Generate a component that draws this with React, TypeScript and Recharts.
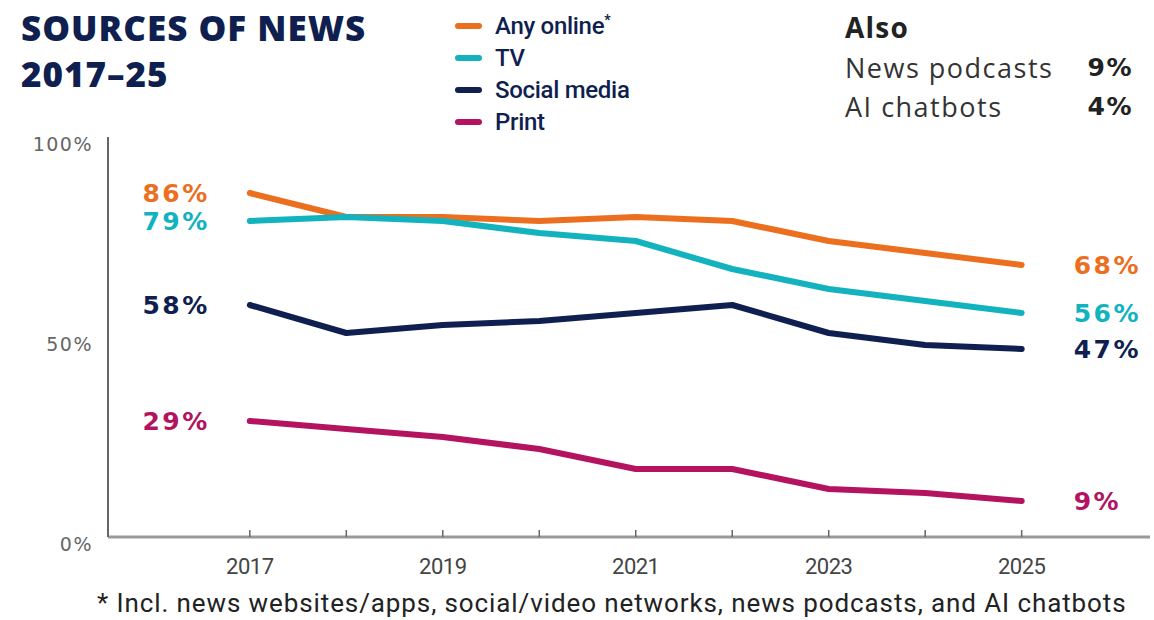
import React from 'react';
import { LineChart, Line, XAxis, YAxis, Legend, LabelList } from 'recharts';

const years = [2017, 2018, 2019, 2020, 2021, 2022, 2023, 2024, 2025];
const anyOnline = [86, 80, 80, 79, 80, 79, 74, 71, 68];
const tv = [79, 80, 79, 76, 74, 67, 62, 59, 56];
const socialMedia = [58, 51, 53, 54, 56, 58, 51, 48, 47];
const print = [29, 27, 25, 22, 17, 17, 12, 11, 9];
const yTicks = [0, 50, 100];
const alsoLabels = ['News podcasts', 'AI chatbots'];
const alsoValues = [9, 4];

const NAVY = '#0f1f4f';

const series = [
  { key: 'online', name: 'Any online', values: anyOnline, color: '#ec6f1f' },
  { key: 'tv', name: 'TV', values: tv, color: '#12b3bf' },
  { key: 'social', name: 'Social media', values: socialMedia, color: NAVY },
  { key: 'print', name: 'Print', values: print, color: '#b3135f' },
];

const data = years.map((year, i) => {
  const row: Record<string, number> = { year };
  series.forEach((s) => (row[s.key] = s.values[i]));
  return row;
});

const lastIndex = years.length - 1;

const XTick = (props: any) => {
  const { x, y, payload } = props;
  const v = payload.value;
  return (
    <g>
      <line x1={x} x2={x} y1={y} y2={y - 7} stroke="#666" strokeWidth={1.5} />
      {v % 2 === 1 && (
        <text x={x} y={y + 29} textAnchor="middle" dominantBaseline="central"
          fontFamily="Roboto" fontSize={22} letterSpacing={-0.5} fill="#444">
          {v}
        </text>
      )}
    </g>
  );
};

const YTick = (props: any) => {
  const { x, y, payload } = props;
  return (
    <text x={x - 15} y={y + 7} textAnchor="end" dominantBaseline="central"
      fontFamily="DejaVu Sans" fontSize={19} letterSpacing={1.5} fill="#666">
      {payload.value}%
    </text>
  );
};

const endLabel = (color: string) => (props: any) => {
  const { x, y, value, index } = props;
  if (index !== 0 && index !== lastIndex) return null;
  const first = index === 0;
  return (
    <text x={first ? x - 40 : x + 52} y={y} textAnchor={first ? 'end' : 'start'}
      dominantBaseline="central" fontFamily="DejaVu Sans" fontWeight="bold"
      fontSize={25} letterSpacing={2.5} fill={color}>
      {value}%
    </text>
  );
};

const LegendBox = () => (
  <div>
    {series.map((s) => (
      <div key={s.key} style={{ display: 'flex', alignItems: 'center', height: 32 }}>
        <span style={{ width: 27, height: 6, borderRadius: 3, background: s.color, marginRight: 13 }} />
        <span style={{ fontFamily: 'Roboto', fontWeight: 500, fontSize: 24, color: NAVY, letterSpacing: -0.3 }}>
          {s.name}
          {s.key === 'online' && <sup style={{ fontSize: 14, fontWeight: 700 }}>*</sup>}
        </span>
      </div>
    ))}
  </div>
);

export default function App() {
  return (
    <div style={{ position: 'relative', width: 1154, height: 620, background: '#fff', overflow: 'hidden' }}>
      <style>{'body{margin:0}'}</style>
      <div style={{ position: 'absolute', left: 21, top: 5, fontFamily: 'Open Sans', fontWeight: 800, fontSize: 35, letterSpacing: 1, color: NAVY, lineHeight: '46px' }}>
        <div>SOURCES OF NEWS</div>
        <div>2017–25</div>
      </div>

      <div style={{ position: 'absolute', left: 845, top: 6, fontFamily: 'Open Sans', color: '#333' }}>
        <div style={{ fontWeight: 700, fontSize: 28, letterSpacing: 1.2, lineHeight: '42px', color: '#222' }}>Also</div>
        {alsoLabels.map((l, i) => (
          <div key={l} style={{ display: 'flex', width: 288, justifyContent: 'space-between', alignItems: 'center', fontSize: 27, letterSpacing: 1.5, lineHeight: '39px' }}>
            <span>{l}</span>
            <span style={{ fontFamily: 'DejaVu Sans', fontWeight: 700, fontSize: 25, letterSpacing: 1.5, color: '#222' }}>{alsoValues[i]}%</span>
          </div>
        ))}
      </div>

      <LineChart width={1154} height={620} data={data} margin={{ top: 137, right: 4, bottom: 23, left: 0 }}>
        <XAxis dataKey="year" type="number" domain={[2015.53, 2026.33]} ticks={years} interval={0}
          height={60} tickSize={0} tickMargin={0} tickLine={false}
          axisLine={{ stroke: '#999', strokeWidth: 3 }} tick={<XTick />} />
        <YAxis type="number" domain={[0, 100]} ticks={yTicks} width={108} tickSize={0} tickMargin={0}
          tickLine={false} axisLine={{ stroke: '#666', strokeWidth: 2 }} tick={<YTick />} />
        <Legend layout="vertical" align="center" verticalAlign="middle" content={<LegendBox />}
          wrapperStyle={{ position: 'absolute', left: 455, top: 10, width: 230 }} />
        {series.map((s) => (
          <Line key={s.key} dataKey={s.key} name={s.name} stroke={s.color} strokeWidth={6}
            strokeLinecap="round" strokeLinejoin="round" dot={false} isAnimationActive={false}>
            <LabelList dataKey={s.key} content={endLabel(s.color)} />
          </Line>
        ))}
      </LineChart>

      <div style={{ position: 'absolute', left: 97, top: 588, fontFamily: 'Roboto', fontSize: 26, color: '#222', letterSpacing: 0.9, whiteSpace: 'nowrap' }}>
        * Incl. news websites/apps, social/video networks, news podcasts, and AI chatbots
      </div>
    </div>
  );
}
